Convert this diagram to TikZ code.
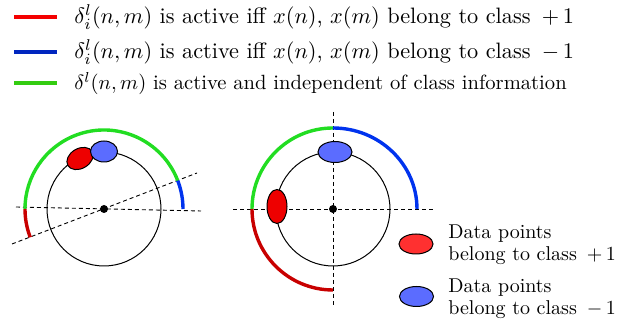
\documentclass[tikz,border=0pt]{standalone}
\usepackage{amsmath}
\usetikzlibrary{shapes.geometric, calc}
\definecolor{dmKeyRed}{HTML}{F40000}
\definecolor{dmKeyBlue}{HTML}{0026BF}
\definecolor{dmKeyGreen}{HTML}{33CC11}
\definecolor{dmArcRed}{HTML}{C80000}
\definecolor{dmArcBlue}{HTML}{0033EE}
\definecolor{dmArcGreen}{HTML}{22DD22}
\definecolor{dmPos}{HTML}{EE0000}
\definecolor{dmNeg}{HTML}{5B6CFF}
\definecolor{dmPosKey}{HTML}{FF3030}
\tikzset{
  keyline/.style={line width=1.6pt},
  keytext/.style={anchor=base west, inner sep=0pt, font=\normalsize},
  ptlabel/.style={anchor=west, inner sep=0pt, align=left, font=\fontsize{10}{11}\selectfont},
  arcline/.style={line width=1.7pt},
  guide/.style={line width=0.45pt, dash pattern=on 2pt off 1.5pt},
  ring/.style={line width=0.5pt},
  datapt/.style={ellipse, draw, line width=0.5pt, inner sep=0pt},
  posdata/.style={datapt, fill=dmPos},
  negdata/.style={datapt, fill=dmNeg},
  ctrdot/.style={fill=black}
}
\begin{document}
\begin{tikzpicture}[x=0.5pt, y=0.5pt]
  \useasboundingbox (0,0) rectangle (633,-324);
  % legend of the arcs
  \foreach \c/\y/\s/\t [count=\i] in {dmKeyRed/17/1.115/{$\delta_i^l(n,m)$ is active iff $x(n)$, $x(m)$ belong to class\, $+\,1$},
                                      dmKeyBlue/52/1.115/{$\delta_i^l(n,m)$ is active iff $x(n)$, $x(m)$ belong to class\, $-\,1$},
                                      dmKeyGreen/83/1.03/{$\delta^l(n,m)$ is active and independent of class information}}{
    \coordinate (ka\i) at (14,-\y);
    \coordinate (kb\i) at (57,-\y);
    \draw[keyline, \c] (ka\i) -- (kb\i);
    \node[keytext, scale=\s, transform shape] (kt\i) at (74,-\y-7) {\t};
  }
  % left picture
  \coordinate (lc) at (104,-209);
  \draw[guide] (16,-207) -- (201,-211);
  \draw[guide] (12,-244) -- (197,-173);
  \draw[ring] (lc) circle[radius=57];
  \draw[arcline, dmArcGreen] ($(lc)+(21:79)$) arc[start angle=21, end angle=180, radius=79];
  \draw[arcline, dmArcRed] ($(lc)+(180:79)$) arc[start angle=180, end angle=201, radius=79];
  \draw[arcline, dmArcBlue] ($(lc)+(0:79)$) arc[start angle=0, end angle=21, radius=79];
  \node[posdata, minimum width=14pt, minimum height=10pt, rotate=30] (lpos) at (80,-158.5) {};
  \node[negdata, minimum width=13.5pt, minimum height=10.5pt] (lneg) at (104,-151.5) {};
  \fill[ctrdot] (lc) circle[radius=4];
  % right picture
  \coordinate (rc) at (333,-209);
  \draw[guide] (233,-209) -- (436,-209);
  \draw[guide] (333,-112) -- (333,-305);
  \draw[ring] (rc) circle[radius=57];
  \draw[arcline, dmArcGreen] ($(rc)+(90:81)$) arc[start angle=90, end angle=180, radius=81];
  \draw[arcline, dmArcRed] ($(rc)+(180:81)$) arc[start angle=180, end angle=270, radius=81];
  \draw[arcline, dmArcBlue] ($(rc)+(0:84)$) arc[start angle=0, end angle=90, x radius=84, y radius=81];
  \node[negdata, minimum width=17pt, minimum height=10.5pt] (rneg) at (335,-152) {};
  \node[posdata, minimum width=10pt, minimum height=17pt] (rpos) at (277,-206.5) {};
  \fill[ctrdot] (rc) circle[radius=4];
  % legend of the data points
  \node[datapt, fill=dmPosKey, minimum width=17pt, minimum height=10pt] (kpos) at (416,-244) {};
  \node[negdata, minimum width=17pt, minimum height=10pt] (kneg) at (416.5,-296.5) {};
  \node[ptlabel] (kposlab) at (448,-245) {Data points\\belong to class\, $+\,1$};
  \node[ptlabel] (kneglab) at (448,-299) {Data points\\belong to class\, $-\,1$};
\end{tikzpicture}
\end{document}
